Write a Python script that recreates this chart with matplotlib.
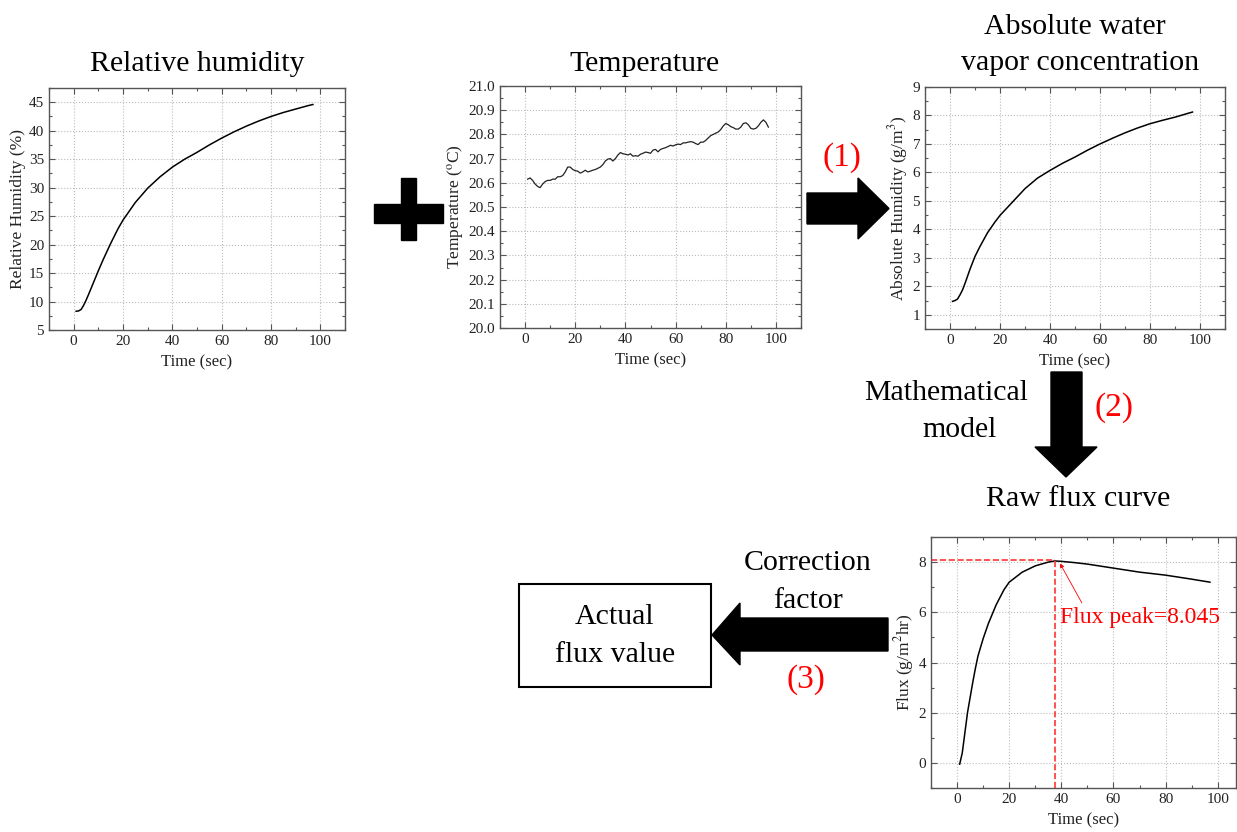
import matplotlib
matplotlib.use('Agg')
import matplotlib.pyplot as plt
from matplotlib.patches import Polygon, Rectangle
from matplotlib.ticker import MultipleLocator

plt.rcParams['font.family'] = ['Liberation Serif', 'DejaVu Serif']
plt.rcParams['mathtext.fontset'] = 'stix'

# time grid shared by the smooth humidity curves (sec)
t_smooth = [1, 2, 3, 4, 5, 6, 8, 10, 12, 15, 18, 20, 25, 30, 35, 40, 45, 50,
            55, 60, 65, 70, 75, 80, 85, 90, 95, 97]
rel_humidity = [8.3, 8.35, 8.6, 9.3, 10.2, 11.2, 13.3, 15.4, 17.4, 20.2, 22.8,
                24.3, 27.4, 29.9, 31.9, 33.6, 35.0, 36.2, 37.5, 38.7, 39.8,
                40.8, 41.7, 42.5, 43.2, 43.8, 44.4, 44.6]
abs_humidity = [1.47, 1.5, 1.55, 1.7, 1.87, 2.1, 2.6, 3.05, 3.4, 3.88, 4.26,
                4.49, 4.96, 5.43, 5.8, 6.07, 6.32, 6.54, 6.78, 7.0, 7.2, 7.39,
                7.56, 7.71, 7.83, 7.94, 8.07, 8.12]

t_temp = list(range(1, 98))
temperature = [20.615, 20.62, 20.61, 20.595, 20.585, 20.58, 20.595, 20.605,
               20.61, 20.61, 20.615, 20.615, 20.625, 20.625, 20.63, 20.645,
               20.665, 20.665, 20.655, 20.65, 20.648, 20.64, 20.645, 20.652,
               20.645, 20.648, 20.652, 20.655, 20.66, 20.665, 20.675, 20.69,
               20.698, 20.7, 20.69, 20.7, 20.715, 20.725, 20.72, 20.718,
               20.715, 20.72, 20.71, 20.712, 20.71, 20.718, 20.722, 20.727,
               20.725, 20.722, 20.735, 20.738, 20.728, 20.738, 20.742, 20.745,
               20.75, 20.755, 20.752, 20.757, 20.76, 20.758, 20.765, 20.765,
               20.768, 20.77, 20.768, 20.762, 20.758, 20.768, 20.768, 20.775,
               20.785, 20.795, 20.8, 20.805, 20.81, 20.82, 20.835, 20.845,
               20.84, 20.832, 20.828, 20.822, 20.822, 20.83, 20.845, 20.848,
               20.84, 20.825, 20.822, 20.825, 20.835, 20.85, 20.86, 20.85,
               20.83]

t_flux = [1, 2, 3, 4, 5, 6, 7, 8, 10, 12, 15, 18, 20, 25, 30, 35, 37.5, 40,
          45, 50, 60, 70, 80, 90, 97]
flux = [-0.05, 0.4, 1.2, 2.0, 2.6, 3.2, 3.75, 4.25, 4.95, 5.55, 6.3, 6.9, 7.2,
        7.6, 7.85, 8.0, 8.045, 8.03, 7.98, 7.92, 7.76, 7.6, 7.48, 7.32, 7.2]
peak_label = 'Flux peak=8.045'

W, H = 1237, 832
fig = plt.figure(figsize=(W / 100, H / 100), dpi=100)


def make_axes(left, top, right, bottom):
    return fig.add_axes([left / W, 1 - bottom / H, (right - left) / W, (bottom - top) / H])


def style(ax, xlim, ylim, ymajor, yminor, ylabel):
    ax.set_xlim(*xlim)
    ax.set_ylim(*ylim)
    ax.xaxis.set_major_locator(MultipleLocator(20))
    ax.xaxis.set_minor_locator(MultipleLocator(10))
    ax.yaxis.set_major_locator(MultipleLocator(ymajor))
    ax.yaxis.set_minor_locator(MultipleLocator(yminor))
    ax.tick_params(which='both', direction='in', top=True, right=True,
                   colors='#555555', labelcolor='#222222', labelsize=11, width=0.8)
    ax.tick_params(which='major', length=4)
    ax.tick_params(which='minor', length=2.5)
    ax.grid(True, linestyle=':', color='#bbbbbb', linewidth=0.8)
    for s in ax.spines.values():
        s.set_color('#555555')
        s.set_linewidth(1)
    ax.set_xlabel('Time (sec)', fontsize=12, color='#222222', labelpad=5)
    ax.set_ylabel(ylabel, fontsize=12.5, color='#222222', labelpad=2)


ax1 = make_axes(49, 88, 345, 330)
ax1.plot(t_smooth, rel_humidity, color='black', linewidth=1.1)
style(ax1, (-10, 110), (5, 47.5), 5, 2.5, 'Relative Humidity (%)')

ax2 = make_axes(500, 86, 801, 328)
ax2.plot(t_temp, temperature, color='#222222', linewidth=0.9)
style(ax2, (-10, 110), (20.0, 21.0), 0.1, 0.05, r'Temperature ($^{\mathrm{o}}$C)')
ax2.yaxis.set_major_formatter(matplotlib.ticker.FormatStrFormatter('%.1f'))

ax3 = make_axes(925, 87, 1225, 329)
ax3.plot(t_smooth, abs_humidity, color='black', linewidth=1.1)
style(ax3, (-10, 110), (0.5, 9), 1, 0.5, r'Absolute Humidity (g/m$^3$)')

ax4 = make_axes(931, 537, 1236, 788)
ax4.plot(t_flux, flux, color='black', linewidth=1.1)
style(ax4, (-10, 107), (-1, 9), 2, 1, r'Flux (g/m$^2$hr)')
peak_y = max(flux)
peak_x = t_flux[flux.index(peak_y)]
ax4.plot([-10, peak_x], [peak_y + 0.03, peak_y + 0.03], color='#ff3333',
         linestyle='--', linewidth=1.2)
ax4.plot([peak_x, peak_x], [-1, peak_y + 0.03], color='#ff3333',
         linestyle='--', linewidth=1.2)
ax4.annotate(peak_label, xy=(peak_x + 2, peak_y - 0.1), xytext=(39.5, 5.8),
             fontsize=17, color='red', va='center', ha='left',
             arrowprops=dict(arrowstyle='-|>', color='red', lw=0.6,
                             mutation_scale=6, relpos=(0.15, 1.0), shrinkA=1, shrinkB=0))

# diagram overlay in pixel coordinates
ov = fig.add_axes([0, 0, 1, 1])
ov.set_xlim(0, W)
ov.set_ylim(H, 0)
ov.axis('off')
ov.patch.set_alpha(0)

ov.add_patch(Rectangle((374, 204), 69, 19, color='black'))
ov.add_patch(Rectangle((401, 178), 15, 62, color='black'))

arrow1 = [(807, 193), (858, 193), (858, 178), (889, 208.5), (858, 239), (858, 224), (807, 224)]
arrow2 = [(1051, 372), (1082, 372), (1082, 447), (1097, 447), (1066, 477), (1035, 447), (1051, 447)]
arrow3 = [(888, 618), (740, 618), (740, 603), (712, 635), (740, 665), (740, 651), (888, 651)]
for pts in (arrow1, arrow2, arrow3):
    ov.add_patch(Polygon(pts, closed=True, color='black'))

ov.add_patch(Rectangle((518.5, 583.5), 192, 103, fill=False, edgecolor='black', linewidth=1.5))

big = 21.5
red = 24
ov.text(197, 64, 'Relative humidity', fontsize=big, ha='center', va='center')
ov.text(644, 64, 'Temperature', fontsize=big, ha='center', va='center')
ov.text(1075, 27, 'Absolute water', fontsize=big, ha='center', va='center')
ov.text(1080, 63, 'vapor concentration', fontsize=big, ha='center', va='center')
ov.text(1078, 499, 'Raw flux curve', fontsize=big, ha='center', va='center')
ov.text(946, 393, 'Mathematical', fontsize=big, ha='center', va='center')
ov.text(960, 430, 'model', fontsize=big, ha='center', va='center')
ov.text(808, 563, 'Correction', fontsize=big, ha='center', va='center')
ov.text(808, 601, 'factor', fontsize=big, ha='center', va='center')
ov.text(615, 617, 'Actual', fontsize=big, ha='center', va='center')
ov.text(615, 655, 'flux value', fontsize=big, ha='center', va='center')
ov.text(842, 158, '(1)', fontsize=red, color='red', ha='center', va='center')
ov.text(1114, 408, '(2)', fontsize=red, color='red', ha='center', va='center')
ov.text(806, 680, '(3)', fontsize=red, color='red', ha='center', va='center')

plt.savefig('out.png', dpi=100)
